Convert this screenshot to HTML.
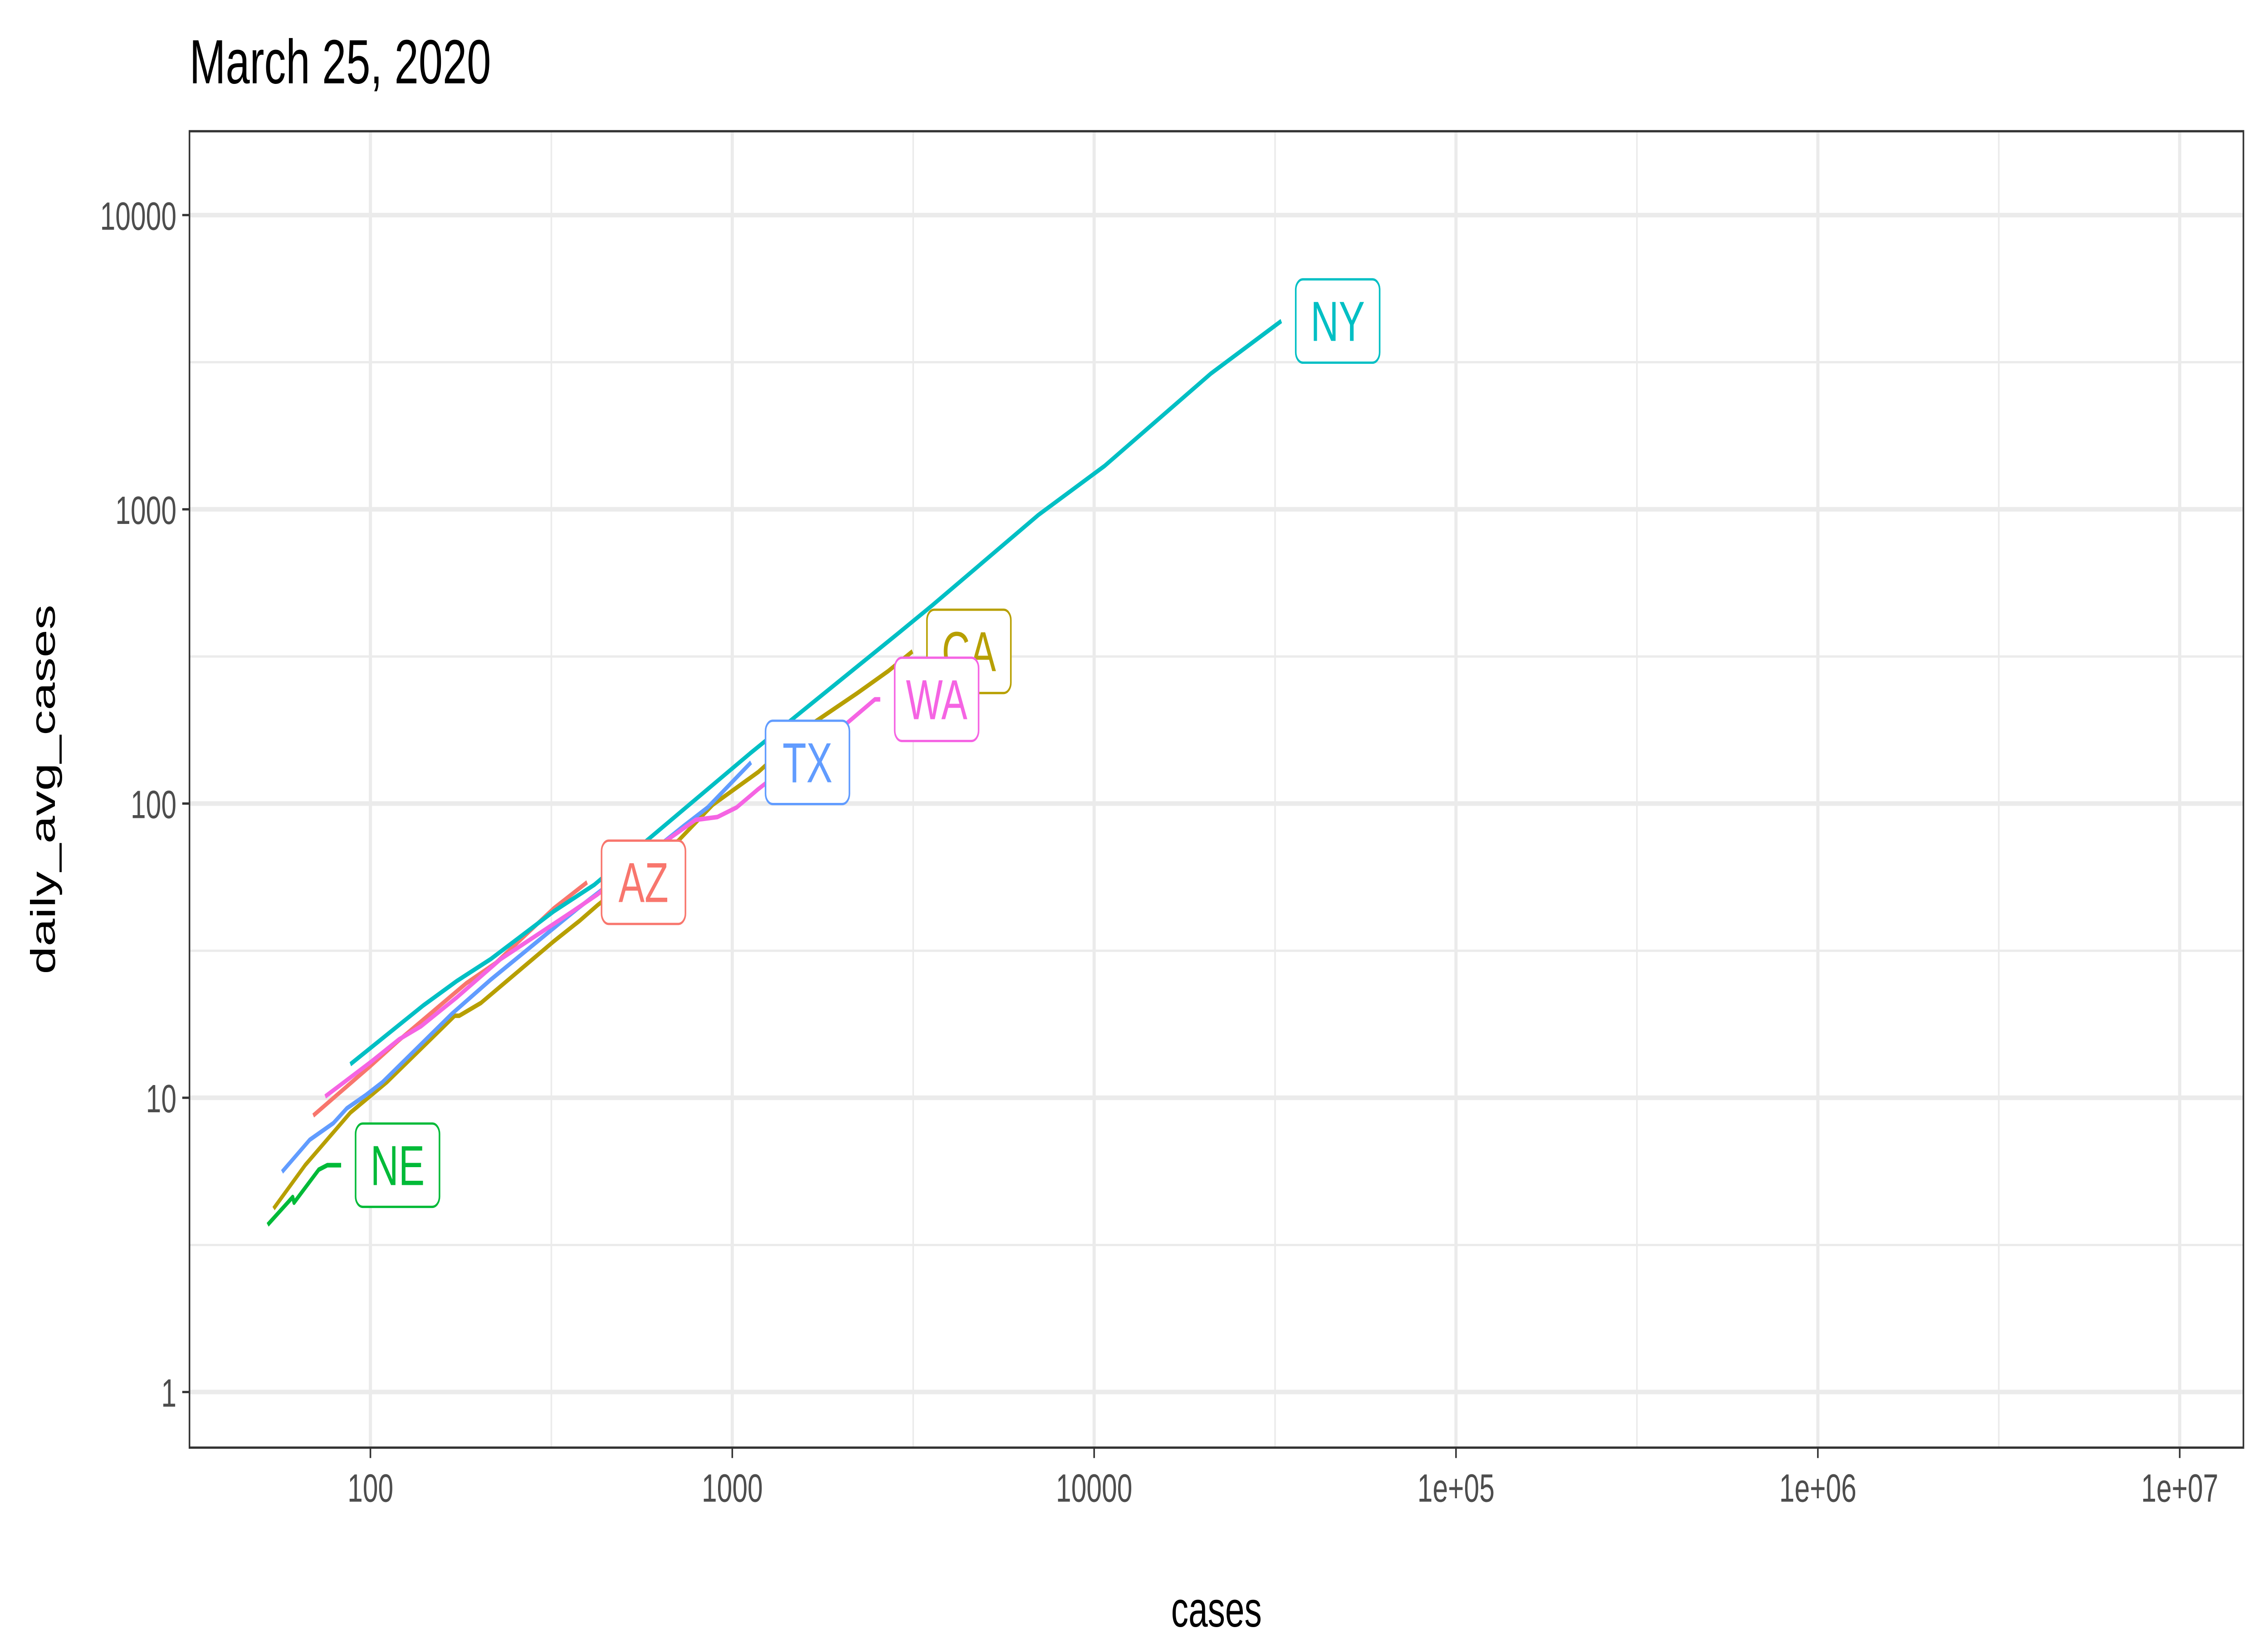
<!DOCTYPE html>
<html><head><meta charset="utf-8"><style>
html,body{margin:0;padding:0;background:#fff;width:100%;height:100%;overflow:hidden}
svg{display:block;width:100vw;height:100vh}
text{font-family:"Liberation Sans",sans-serif}
</style></head><body>
<svg id="chart" viewBox="0 0 1568 784" preserveAspectRatio="none" xmlns="http://www.w3.org/2000/svg">
<rect width="1568" height="784" fill="#fff"/>
<text x="131" y="40" font-size="30" fill="#000">March 25, 2020</text>
<g id="grid"></g>
<g id="series"></g>
<g id="labels"></g>
<rect x="131" y="63" width="1420" height="632" fill="none" stroke="#333" stroke-width="1.1"/>
<g id="axes"></g>
<text x="841" y="781" font-size="24" text-anchor="middle" fill="#000">cases</text>
<text transform="translate(38,379) rotate(-90)" font-size="24" text-anchor="middle" fill="#000">daily_avg_cases</text>
</svg>
<script>
const states = ["AZ","CA","NE","NY","TX","WA"];
const colors = ["#F8766D","#B79F00","#00BA38","#00BFC4","#619CFF","#F564E3"];
const azX = [69.5,99.8,120,184,222,321,397];
const azY = [8.7,12.8,15.7,24.5,28.7,44,54];
const caX = [54,66,88,111,171,176,202,321,379,423,711,883,1180,1655,2213,2698,3148];
const caY = [4.2,5.9,8.9,11.3,19,19,21,34,40,45,75,99,128,186,237,282,329];
const neX = [52,61,61.5,72,76,83];
const neY = [3.7,4.6,4.4,5.7,5.9,5.9];
const nyX = [88,140,173,215,321,416,1127,2830,3573,7015,10700,21000,32900];
const nyY = [13,20.6,24.9,29.6,43,53,149,373,472,957,1406,2890,4365];
const txX = [57,68,79,86,97,108,168,215,374,611,735,855,1127];
const txY = [5.6,7.2,8.2,9.2,10.2,11.3,19.3,25.2,44,70,84,97,138];
const waX = [75,100,120,138,173,229,362,423,649,792,910,1028,1180,1600,2037,2479,2564];
const waY = [10.1,13.2,15.8,17.5,21.9,29.6,43,49,74,88,90,97,112,150,184,226,226];
const xTicks = [100,1000,10000,100000,1000000,10000000];
const xTickLabels = ["100","1000","10000","1e+05","1e+06","1e+07"];
const yTicks = [1,10,100,1000,10000];
const yTickLabels = ["1","10","100","1000","10000"];
const labelText = ["AZ","CA","NE","NY","TX","WA"];

const NS="http://www.w3.org/2000/svg";
const PL=131,PR=1551,PT=63,PB=695;
const X0=1.5,X1=7.176,Y0=-0.189,Y1=4.285;
function sx(v){return PL+(Math.log10(v)-X0)/(X1-X0)*(PR-PL);}
function sy(v){return PB-(Math.log10(v)-Y0)/(Y1-Y0)*(PB-PT);}
function mk(tag,attrs,parent){const e=document.createElementNS(NS,tag);for(const k in attrs)e.setAttribute(k,attrs[k]);parent.appendChild(e);return e;}
const grid=document.getElementById('grid'),axes=document.getElementById('axes');
xTicks.forEach(t=>{const m=t*Math.sqrt(10)/10;if(sx(m)>PL){const l=mk('line',{x1:sx(m),x2:sx(m),y1:PT,y2:PB,stroke:'#ebebeb','stroke-width':1.1},grid);

}});
[3.16,31.6,316,3162].forEach(m=>{const l=mk('line',{x1:PL,x2:PR,y1:sy(m),y2:sy(m),stroke:'#ebebeb','stroke-width':1.1},grid);

});
xTicks.forEach((t,i)=>{const x=sx(t);
 const g=mk('line',{x1:x,x2:x,y1:PT,y2:PB,stroke:'#ebebeb','stroke-width':2.2},grid);
 
 
 const tk=mk('line',{x1:x,x2:x,y1:PB,y2:PB+5,stroke:'#333','stroke-width':1.1},axes);
 
 
 const tx=mk('text',{x:x,y:PB+26,'font-size':19,'text-anchor':'middle',fill:'#4d4d4d'},axes);tx.textContent=xTickLabels[i];
 
 });
yTicks.forEach((t,i)=>{const y=sy(t);
 const g=mk('line',{x1:PL,x2:PR,y1:y,y2:y,stroke:'#ebebeb','stroke-width':2.2},grid);
 
 
 const tk=mk('line',{x1:PL-5,x2:PL,y1:y,y2:y,stroke:'#333','stroke-width':1.1},axes);
 
 
 const tx=mk('text',{x:PL-9,y:y+7,'font-size':19,'text-anchor':'end',fill:'#4d4d4d'},axes);tx.textContent=yTickLabels[i];
 
 });
const seriesX=[azX,caX,neX,nyX,txX,waX],seriesY=[azY,caY,neY,nyY,txY,waY];
const sg=document.getElementById('series'),lg=document.getElementById('labels');
seriesX.forEach((xs,i)=>{const pts=xs.map((v,j)=>sx(v).toFixed(2)+','+sy(seriesY[i][j]).toFixed(2)).join(' ');
 const p=mk('polyline',{points:pts,fill:'none',stroke:colors[i],'stroke-width':2.2,'stroke-linejoin':'round'},sg);
 
 });
seriesX.forEach((xs,i)=>{const n=xs.length-1;const x=sx(xs[n])+10,y=sy(seriesY[i][n]);
 const txt=labelText[i];const w=txt.length*18+22,h=40;
 const g=mk('g',{},lg);
 
 
 const r=mk('rect',{x:x,y:y-h/2,width:w,height:h,rx:5,fill:'#fff',stroke:colors[i],'stroke-width':1.1},g);
 
 
 const t=mk('text',{x:x+w/2,y:y+9.5,'font-size':27,'text-anchor':'middle',fill:colors[i]},g);t.textContent=txt;
 
 });
</script>
</body></html>
